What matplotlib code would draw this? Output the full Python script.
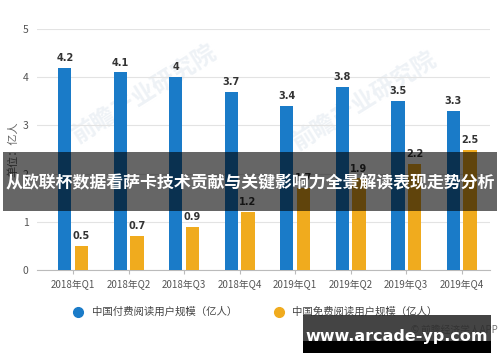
import numpy as np
import matplotlib
matplotlib.use("Agg")
import matplotlib.pyplot as plt
from matplotlib.lines import Line2D
from matplotlib.patches import Rectangle

plt.rcParams['font.family'] = ['Noto Sans CJK SC', 'DejaVu Sans']

quarters = ['2018年Q1', '2018年Q2', '2018年Q3', '2018年Q4',
            '2019年Q1', '2019年Q2', '2019年Q3', '2019年Q4']
paid = [4.2, 4.1, 4, 3.7, 3.4, 3.8, 3.5, 3.3]
free = [0.5, 0.7, 0.9, 1.2, 1.7, 1.9, 2.2, 2.5]
paid_label = '中国付费阅读用户规模（亿人）'
free_label = '中国免费阅读用户规模（亿人）'
banner = '从欧联杯数据看萨卡技术贡献与关键影响力全景解读表现走势分析'

blue = '#1a7bc8'
yellow = '#f0ab1e'

fig = plt.figure(figsize=(5, 3.62), dpi=100)

# faint watermarks, behind everything
for wx, wy in [(0.29, 0.74), (0.73, 0.72)]:
    fig.text(wx, wy, '前瞻产业研究院', fontsize=17, fontweight='bold', color='#eef2f6',
             rotation=32, ha='center', va='center', zorder=-5)

ax = fig.add_axes([0.074, 0.254, 0.906, 0.666])
ax.patch.set_visible(False)

x = np.arange(len(quarters))
w = 0.24
ax.bar(x - 0.15, paid, w, color=blue, zorder=3)
ax.bar(x + 0.15, free, w, color=yellow, zorder=3)
for i in range(len(x)):
    ax.text(x[i] - 0.15, paid[i] + 0.1, f'{paid[i]:g}', ha='center', va='bottom',
            fontsize=7, fontweight='bold', color='#333333', family='DejaVu Sans', zorder=4)
    ax.text(x[i] + 0.15, free[i] + 0.1, f'{free[i]:g}', ha='center', va='bottom',
            fontsize=7, fontweight='bold', color='#333333', family='DejaVu Sans', zorder=4)

ax.set_xlim(-0.65, 7.51)
ax.set_ylim(0, 5)
ax.set_yticks([0, 1, 2, 3, 4, 5])
ax.set_xticks(x)
ax.set_xticklabels(quarters, fontsize=7, color='#555555')
ax.tick_params(axis='y', length=0, labelsize=7.5, labelcolor='#555555', pad=6)
ax.tick_params(axis='x', length=3, color='#bbbbbb', pad=4)
ax.grid(axis='y', color='#e3e3e3', linewidth=0.8, zorder=0)
for s in ['top', 'right', 'left']:
    ax.spines[s].set_visible(False)
ax.spines['bottom'].set_color('#bbbbbb')
ax.set_ylabel('单位：亿人', fontsize=8, color='#666666', labelpad=3)

legend_handles = [
    Line2D([], [], marker='o', linestyle='', markersize=7, color=blue),
    Line2D([], [], marker='o', linestyle='', markersize=7, color=yellow),
]
fig.legend(legend_handles, [paid_label, free_label], loc='center',
           bbox_to_anchor=(0.505, 0.138), ncol=2, frameon=False, fontsize=7.5,
           handletextpad=0.3, columnspacing=3, labelcolor='#444444')

fig.text(0.995, 0.088, '© 前瞻经济学人APP', fontsize=7, color='#777777', ha='right', va='center')

# dark title banner
fig.patches.append(Rectangle((0.006, 0.417), 0.988, 0.163, transform=fig.transFigure,
                             facecolor='black', alpha=0.6, edgecolor='none', zorder=10))
fig.text(0.5, 0.494, banner, fontsize=12.2, fontweight='bold', color='white',
         ha='center', va='center', zorder=11)

# website box
fig.patches.append(Rectangle((0.606, 0.055), 0.376, 0.075, transform=fig.transFigure,
                             facecolor='#2a2a2a', alpha=0.88, edgecolor='none', zorder=10))
fig.patches.append(Rectangle((0.606, 0.025), 0.376, 0.032, transform=fig.transFigure,
                             facecolor='black', edgecolor='none', zorder=10))
fig.text(0.794, 0.07, 'www.arcade-yp.com', fontsize=11.5, fontweight='bold', color='white',
         ha='center', va='center', family='DejaVu Sans', zorder=11)

fig.savefig('out.png', dpi=100)
